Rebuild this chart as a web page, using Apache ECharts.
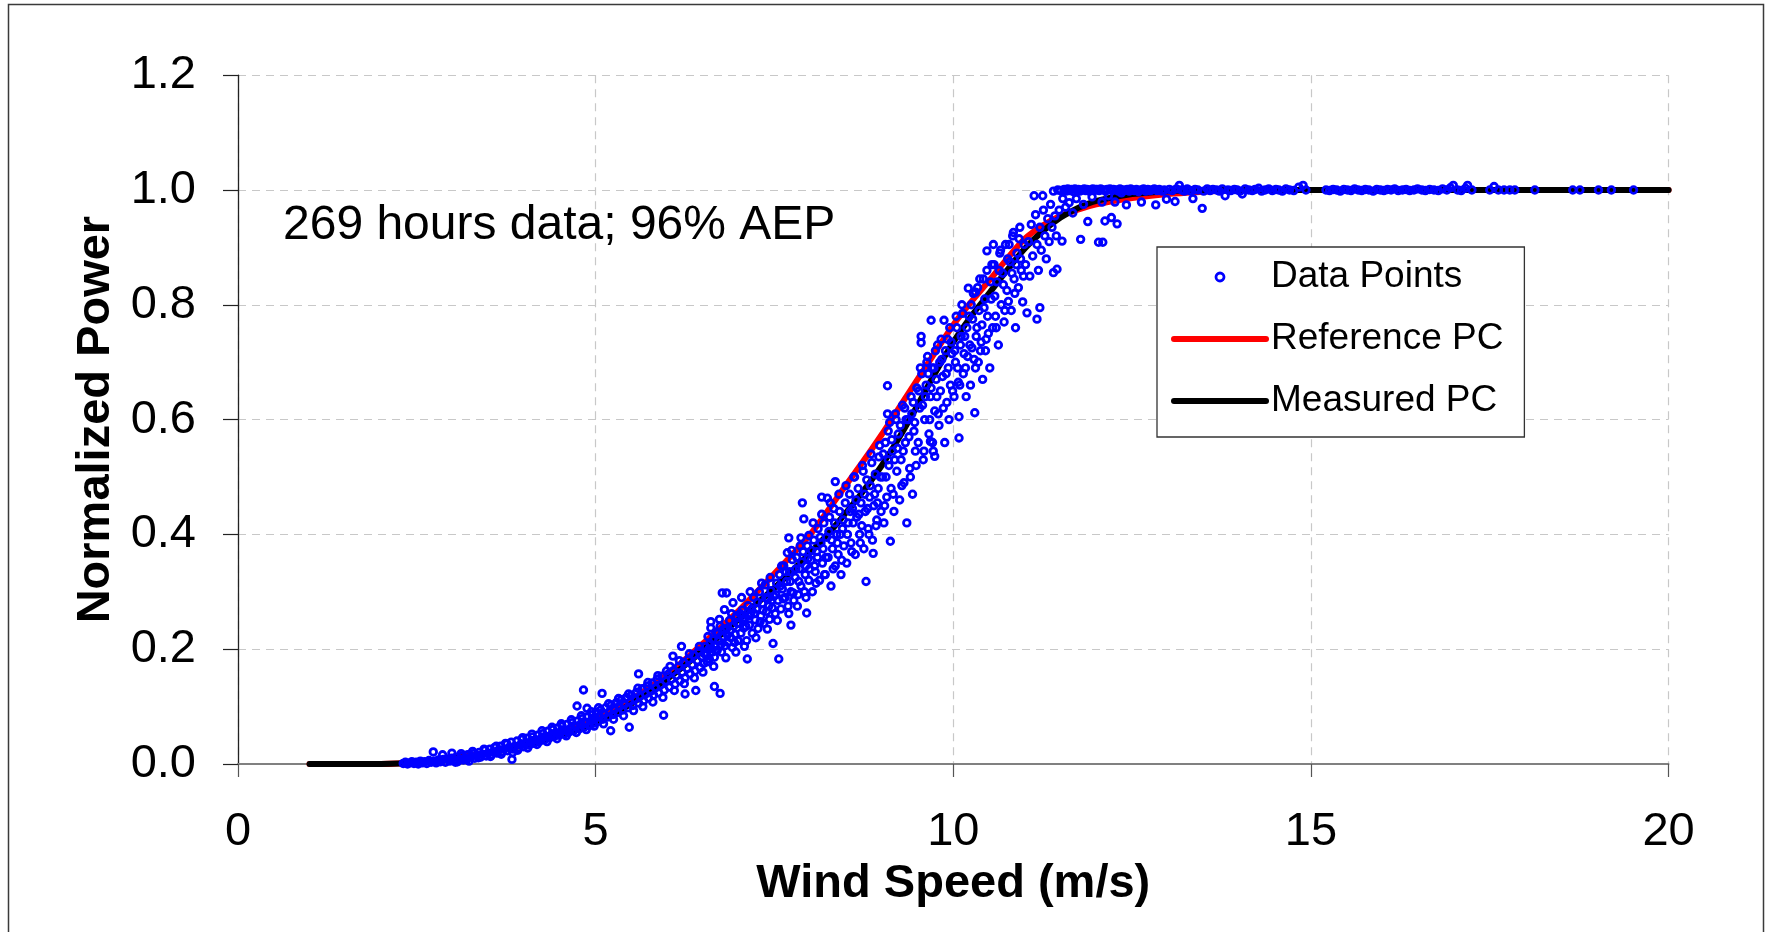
<!DOCTYPE html>
<html>
<head>
<meta charset="utf-8">
<script src="https://cdn.jsdelivr.net/npm/echarts@6/dist/echarts.min.js"></script>
<style>
html,body{margin:0;padding:0;background:#fff;}
#chart{width:1766px;height:932px;}
</style>
</head>
<body>
<div id="chart"></div>
<script>
// ---------- data ----------
const xAxisTitle = 'Wind Speed (m/s)';
const yAxisTitle = 'Normalized Power';
const annotationText = '269 hours data; 96% AEP';
const seriesNames = ['Data Points', 'Reference PC', 'Measured PC'];

const refSpeed = [1, 1.5, 2, 2.5, 3, 3.5, 4, 4.5, 5, 5.5, 6, 6.25, 6.5, 6.75, 7, 7.25, 7.5, 7.75, 8, 8.25, 8.5, 8.75, 9, 9.25, 9.5, 9.75, 10, 10.25, 10.5, 10.75, 11, 11.25, 11.5, 11.75, 12, 12.5, 13, 13.5, 14, 20];
const refPower = [0, 0, 0, 0.003, 0.010, 0.020, 0.034, 0.053, 0.077, 0.112, 0.156, 0.182, 0.210, 0.238, 0.267, 0.299, 0.332, 0.365, 0.400, 0.442, 0.486, 0.529, 0.574, 0.622, 0.670, 0.718, 0.765, 0.805, 0.842, 0.880, 0.915, 0.938, 0.955, 0.966, 0.975, 0.986, 0.993, 0.997, 1.0, 1.0];

const measSpeed = [1, 1.5, 2, 2.5, 3, 3.5, 4, 4.5, 5, 5.5, 6, 6.25, 6.5, 6.75, 7, 7.25, 7.5, 7.75, 8, 8.25, 8.5, 8.75, 9, 9.25, 9.5, 9.75, 10, 10.25, 10.5, 10.75, 11, 11.25, 11.5, 11.75, 12, 12.5, 13, 13.5, 14, 20];
const measPower = [0, 0, 0, 0.002, 0.009, 0.019, 0.033, 0.050, 0.073, 0.105, 0.148, 0.172, 0.198, 0.225, 0.252, 0.279, 0.307, 0.337, 0.368, 0.401, 0.438, 0.477, 0.520, 0.570, 0.625, 0.682, 0.735, 0.780, 0.820, 0.860, 0.898, 0.928, 0.952, 0.969, 0.981, 0.993, 0.998, 1.0, 1.0, 1.0];

const dataPoints = [
[2.31,0.001],[2.34,0.003],[2.37,0.000],[2.40,0.002],[2.43,0.004],[2.46,0.001],[2.49,0.003],[2.52,0.000],[2.55,0.005],[2.58,0.002],[2.61,0.004],[2.64,0.001],[2.67,0.006],[2.70,0.003],[2.73,0.021],[2.74,0.005],[2.77,0.002],[2.80,0.007],[2.83,0.004],[2.86,0.016],[2.87,0.008],[2.90,0.003],[2.93,0.009],[2.96,0.005],[2.99,0.019],[2.99,0.010],
[3.02,0.006],[3.05,0.012],[3.07,0.004],[3.10,0.009],[3.13,0.014],[3.15,0.007],[3.18,0.011],[3.21,0.016],[3.23,0.005],[3.26,0.013],[3.29,0.018],[3.31,0.010],[3.34,0.015],[3.37,0.020],[3.39,0.012],[3.42,0.017],[3.45,0.024],[3.47,0.014],[3.50,0.019],
[3.04,0.003],[3.12,0.018],[3.20,0.008],[3.28,0.022],[3.36,0.011],[3.44,0.026],[3.53,0.013],[3.61,0.031],[3.68,0.017],[3.76,0.035],[3.84,0.020],[3.91,0.024],[3.98,0.046],
[3.52,0.026],[3.54,0.016],[3.57,0.021],[3.59,0.029],[3.62,0.019],[3.64,0.024],[3.67,0.031],[3.69,0.021],[3.72,0.026],[3.74,0.036],[3.77,0.023],[3.79,0.029],[3.82,0.038],[3.83,0.008],[3.85,0.026],[3.87,0.031],[3.90,0.040],[3.92,0.028],[3.95,0.034],[3.97,0.043],[3.99,0.030],
[4.02,0.036],[4.04,0.045],[4.07,0.033],[4.09,0.039],[4.12,0.047],[4.14,0.036],[4.16,0.042],[4.19,0.050],[4.21,0.039],[4.24,0.045],[4.26,0.053],[4.28,0.042],[4.31,0.048],[4.33,0.057],[4.35,0.045],[4.38,0.051],[4.40,0.060],[4.42,0.048],[4.45,0.054],[4.47,0.063],[4.49,0.050],
[4.05,0.028],[4.11,0.052],[4.18,0.034],[4.25,0.058],[4.32,0.039],[4.39,0.064],[4.46,0.044],[4.52,0.070],[4.59,0.049],[4.66,0.077],[4.73,0.055],[4.80,0.084],[4.87,0.060],[4.94,0.091],[4.98,0.066],
[4.51,0.056],[4.53,0.066],[4.56,0.052],[4.58,0.059],[4.60,0.069],[4.62,0.055],[4.65,0.062],[4.67,0.072],[4.69,0.058],[4.72,0.066],[4.74,0.101],[4.75,0.075],[4.77,0.061],[4.79,0.069],[4.81,0.079],[4.83,0.129],[4.84,0.064],[4.86,0.072],[4.88,0.097],[4.89,0.082],[4.91,0.067],[4.93,0.075],[4.95,0.086],[4.97,0.071],[4.99,0.079],
[5.01,0.090],[5.03,0.074],[5.05,0.083],[5.07,0.094],[5.09,0.123],[5.10,0.078],[5.12,0.087],[5.14,0.098],[5.17,0.082],[5.19,0.091],[5.21,0.058],[5.22,0.103],[5.24,0.086],[5.26,0.095],[5.29,0.107],[5.31,0.090],[5.33,0.100],[5.36,0.112],[5.38,0.094],[5.40,0.104],[5.43,0.116],[5.45,0.098],[5.47,0.064],[5.48,0.108],
[5.04,0.098],[5.11,0.070],[5.18,0.105],[5.25,0.078],[5.32,0.114],[5.39,0.084],[5.46,0.122],[5.53,0.093],[5.59,0.132],[5.66,0.100],[5.73,0.142],[5.80,0.108],[5.87,0.154],[5.94,0.116],[5.99,0.162],
[5.50,0.120],[5.52,0.102],[5.55,0.113],[5.57,0.125],[5.60,0.157],[5.60,0.106],[5.62,0.118],[5.65,0.131],[5.67,0.110],[5.70,0.122],[5.72,0.136],[5.74,0.115],[5.77,0.127],[5.79,0.141],[5.81,0.120],[5.84,0.133],[5.86,0.148],[5.88,0.124],[5.91,0.138],[5.93,0.153],[5.95,0.085],[5.96,0.129],[5.98,0.145],
[6.01,0.156],[6.03,0.134],[6.06,0.148],[6.08,0.188],[6.08,0.162],[6.11,0.139],[6.13,0.154],[6.16,0.170],[6.18,0.145],[6.20,0.205],[6.21,0.160],[6.23,0.177],[6.25,0.150],[6.25,0.122],[6.28,0.166],[6.30,0.183],[6.32,0.157],[6.35,0.173],[6.37,0.190],[6.39,0.162],[6.40,0.128],[6.42,0.180],[6.44,0.197],[6.46,0.168],[6.48,0.187],
[6.04,0.170],[6.10,0.128],[6.17,0.180],[6.24,0.140],[6.31,0.192],[6.38,0.150],[6.45,0.205],[6.50,0.160],[6.58,0.200],[6.65,0.170],[6.73,0.252],[6.82,0.185],[6.90,0.262],[6.96,0.195],
[6.51,0.175],[6.53,0.205],[6.55,0.190],[6.57,0.222],[6.59,0.183],[6.61,0.248],[6.61,0.237],[6.62,0.201],[6.64,0.216],[6.66,0.135],[6.66,0.186],[6.68,0.230],[6.70,0.198],[6.72,0.214],[6.74,0.123],[6.74,0.240],[6.76,0.195],[6.77,0.298],[6.78,0.222],[6.80,0.269],[6.81,0.206],[6.83,0.298],[6.83,0.236],[6.85,0.212],[6.87,0.250],[6.89,0.220],[6.91,0.203],[6.92,0.281],[6.93,0.240],[6.95,0.226],[6.97,0.258],[6.99,0.215],
[6.52,0.192],[6.56,0.178],[6.60,0.210],[6.63,0.195],[6.67,0.205],[6.71,0.228],[6.75,0.208],[6.79,0.235],[6.84,0.225],[6.88,0.232],[6.94,0.212],[6.98,0.245],
[7.01,0.245],[7.03,0.228],[7.05,0.268],[7.07,0.237],[7.09,0.255],[7.11,0.215],[7.12,0.183],[7.13,0.276],[7.15,0.242],[7.17,0.262],[7.19,0.228],[7.21,0.290],[7.23,0.251],[7.25,0.270],[7.27,0.236],[7.29,0.300],[7.31,0.258],[7.33,0.280],[7.35,0.245],[7.37,0.312],[7.39,0.266],[7.41,0.288],[7.43,0.252],[7.45,0.302],[7.47,0.272],[7.48,0.210],[7.49,0.292],
[7.02,0.262],[7.06,0.250],[7.10,0.240],[7.14,0.258],[7.18,0.270],[7.22,0.262],[7.26,0.282],[7.30,0.248],[7.34,0.268],[7.38,0.290],[7.42,0.275],[7.46,0.285],
[7.04,0.290],[7.08,0.205],[7.16,0.300],[7.24,0.220],[7.32,0.315],[7.40,0.235],[7.44,0.325],[7.54,0.250],[7.60,0.345],[7.70,0.262],[7.74,0.372],[7.82,0.275],[7.86,0.380],[7.94,0.290],[7.98,0.398],
[7.51,0.262],[7.53,0.315],[7.55,0.285],[7.56,0.183],[7.57,0.330],[7.59,0.270],[7.61,0.305],[7.63,0.345],[7.65,0.290],[7.67,0.318],[7.68,0.368],[7.69,0.275],[7.70,0.394],[7.71,0.335],[7.73,0.242],[7.73,0.300],[7.75,0.356],[7.77,0.285],[7.79,0.325],[7.81,0.360],[7.83,0.295],[7.85,0.340],[7.87,0.394],[7.87,0.310],[7.89,0.455],[7.90,0.370],[7.91,0.427],[7.92,0.300],[7.94,0.345],[7.95,0.263],[7.96,0.380],[7.98,0.320],
[7.52,0.295],[7.58,0.310],[7.62,0.288],[7.66,0.335],[7.72,0.318],[7.76,0.298],[7.80,0.340],[7.84,0.318],[7.88,0.352],[7.93,0.330],[7.97,0.358],[7.99,0.340],
[8.01,0.355],[8.03,0.300],[8.05,0.390],[8.07,0.335],[8.09,0.370],[8.11,0.410],[8.13,0.320],[8.15,0.385],[8.16,0.465],[8.17,0.350],[8.19,0.420],[8.21,0.330],[8.23,0.395],[8.24,0.463],[8.25,0.360],[8.27,0.430],[8.29,0.310],[8.31,0.375],[8.33,0.445],[8.35,0.492],[8.35,0.345],[8.37,0.400],[8.39,0.365],[8.41,0.440],[8.43,0.330],[8.45,0.410],[8.47,0.380],[8.49,0.455],
[8.02,0.372],[8.06,0.345],[8.10,0.360],[8.14,0.395],[8.18,0.375],[8.22,0.360],[8.26,0.405],[8.30,0.390],[8.34,0.420],[8.38,0.385],[8.42,0.400],[8.46,0.425],
[8.04,0.420],[8.08,0.315],[8.16,0.435],[8.20,0.330],[8.28,0.455],[8.32,0.340],[8.40,0.470],[8.44,0.355],[8.50,0.485],[8.58,0.370],[8.62,0.500],[8.70,0.385],[8.74,0.510],[8.82,0.400],[8.86,0.525],[8.92,0.415],[8.96,0.535],
[8.51,0.350],[8.53,0.420],[8.55,0.470],[8.57,0.385],[8.59,0.445],[8.61,0.500],[8.63,0.365],[8.65,0.430],[8.67,0.480],[8.69,0.400],[8.71,0.455],[8.73,0.520],[8.75,0.375],[8.77,0.440],[8.78,0.318],[8.79,0.495],[8.81,0.410],[8.83,0.465],[8.85,0.540],[8.87,0.390],[8.88,0.367],[8.89,0.450],[8.91,0.505],[8.93,0.425],[8.95,0.480],[8.97,0.555],[8.99,0.440],
[8.52,0.400],[8.56,0.440],[8.60,0.420],[8.64,0.460],[8.68,0.435],[8.72,0.415],[8.76,0.470],[8.80,0.445],[8.84,0.485],[8.90,0.470],[8.94,0.455],[8.98,0.500],
[9.01,0.500],[9.03,0.420],[9.05,0.560],[9.07,0.465],[9.08,0.659],[9.08,0.610],[9.09,0.530],[9.11,0.595],[9.12,0.388],[9.13,0.480],[9.15,0.545],[9.17,0.440],[9.19,0.610],[9.21,0.510],[9.23,0.575],[9.25,0.460],[9.27,0.530],[9.29,0.625],[9.31,0.490],[9.33,0.560],[9.35,0.420],[9.37,0.600],[9.39,0.515],[9.41,0.640],[9.43,0.470],[9.45,0.580],[9.47,0.545],[9.49,0.655],
[9.02,0.540],[9.06,0.500],[9.10,0.520],[9.14,0.565],[9.18,0.530],[9.22,0.550],[9.26,0.590],[9.30,0.545],[9.34,0.600],[9.38,0.570],[9.42,0.610],[9.46,0.595],
[9.04,0.450],[9.09,0.580],[9.16,0.470],[9.20,0.600],[9.28,0.485],[9.32,0.620],[9.40,0.500],[9.44,0.630],[9.48,0.520],[9.54,0.690],[9.59,0.545],[9.63,0.700],[9.67,0.600],[9.75,0.720],[9.79,0.610],[9.83,0.740],[9.91,0.630],[9.95,0.760],[9.99,0.650],
[9.51,0.560],[9.53,0.620],[9.55,0.745],[9.55,0.734],[9.56,0.680],[9.58,0.530],[9.60,0.600],[9.62,0.660],[9.64,0.710],[9.66,0.575],[9.68,0.640],[9.68,0.562],[9.69,0.773],[9.70,0.690],[9.71,0.560],[9.72,0.545],[9.74,0.536],[9.74,0.615],[9.76,0.670],[9.78,0.730],[9.80,0.590],[9.82,0.650],[9.84,0.705],[9.86,0.620],[9.87,0.773],[9.88,0.560],[9.90,0.680],[9.92,0.740],[9.94,0.600],[9.96,0.660],[9.98,0.715],
[9.52,0.650],[9.57,0.625],[9.61,0.640],[9.65,0.680],[9.69,0.655],[9.73,0.690],[9.77,0.640],[9.81,0.700],[9.85,0.675],[9.89,0.720],[9.93,0.690],[9.97,0.735],
[10.01,0.640],[10.03,0.700],[10.05,0.760],[10.07,0.665],[10.08,0.605],[10.08,0.568],[10.10,0.730],[10.12,0.800],[10.14,0.680],[10.16,0.745],[10.18,0.640],[10.20,0.710],[10.21,0.829],[10.22,0.780],[10.24,0.660],[10.26,0.725],[10.28,0.820],[10.30,0.612],[10.31,0.690],[10.31,0.822],[10.33,0.760],[10.35,0.700],[10.37,0.845],[10.39,0.735],[10.41,0.670],[10.43,0.795],[10.45,0.720],[10.47,0.860],[10.47,0.894],[10.49,0.750],
[10.02,0.720],[10.06,0.690],[10.11,0.745],[10.15,0.715],[10.19,0.760],[10.23,0.730],[10.27,0.775],[10.32,0.745],[10.36,0.790],[10.40,0.765],[10.44,0.810],[10.48,0.780],
[10.04,0.780],[10.09,0.660],[10.13,0.785],[10.17,0.690],[10.25,0.800],[10.29,0.705],[10.34,0.830],[10.38,0.720],[10.42,0.845],[10.46,0.740],[10.54,0.870],[10.60,0.760],[10.66,0.895],[10.72,0.790],[10.78,0.905],[10.86,0.820],[10.92,0.915],[10.98,0.850],
[10.51,0.690],[10.53,0.810],[10.55,0.760],[10.56,0.905],[10.57,0.870],[10.59,0.780],[10.61,0.840],[10.63,0.730],[10.65,0.890],[10.67,0.800],[10.69,0.855],[10.71,0.770],[10.73,0.905],[10.75,0.825],[10.77,0.806],[10.79,0.875],[10.81,0.790],[10.83,0.920],[10.84,0.926],[10.85,0.845],[10.87,0.760],[10.89,0.890],[10.91,0.830],[10.93,0.935],[10.95,0.860],[10.97,0.805],[10.99,0.905],
[10.52,0.840],[10.58,0.815],[10.64,0.860],[10.70,0.835],[10.76,0.880],[10.82,0.855],[10.88,0.870],[10.94,0.880],
[11.01,0.870],[11.03,0.786],[11.05,0.910],[11.07,0.850],[11.09,0.940],[11.11,0.885],[11.13,0.990],[11.15,0.957],[11.17,0.775],[11.17,0.905],[11.19,0.860],[11.21,0.795],[11.21,0.935],[11.23,0.895],[11.25,0.990],[11.26,0.965],[11.28,0.920],[11.30,0.880],[11.32,0.950],[11.34,0.910],[11.36,0.975],[11.38,0.935],[11.40,0.998],[11.40,0.856],[11.42,0.955],[11.44,0.920],[11.45,0.862],[11.46,1.000],[11.48,0.965],
[11.50,0.999],[11.52,0.911],[11.53,0.985],[11.55,1.001],[11.57,0.970],[11.58,0.998],[11.60,1.002],[11.62,0.978],[11.63,0.999],[11.65,1.001],[11.67,0.960],[11.68,0.997],[11.70,1.002],[11.72,0.985],[11.73,0.999],[11.75,1.001],[11.77,0.998],[11.78,0.914],[11.80,1.000],[11.82,0.975],[11.83,1.002],[11.85,0.999],[11.87,1.001],[11.88,0.945],[11.90,0.998],[11.92,1.000],[11.94,0.988],[11.95,1.002],[11.97,0.999],[11.99,1.001],
[12.01,1.001],[12.03,0.909],[12.04,0.999],[12.06,1.002],[12.08,0.979],[12.09,0.909],[12.10,1.000],[12.12,0.946],[12.13,0.998],[12.15,1.001],[12.17,0.990],[12.19,1.002],[12.21,0.952],[12.22,0.999],[12.24,1.001],[12.26,0.979],[12.28,1.000],[12.29,0.941],[12.31,0.998],[12.33,1.002],[12.35,0.995],[12.37,1.000],[12.39,0.999],[12.42,0.974],[12.43,1.001],[12.46,0.998],[12.48,1.002],[12.50,1.000],[12.53,0.999],[12.56,1.001],[12.59,0.997],[12.62,1.000],[12.63,0.979],[12.66,1.002],[12.69,0.998],[12.72,1.001],[12.75,0.999],[12.78,1.000],[12.81,1.002],[12.83,0.974],[12.85,0.999],[12.88,1.001],[12.92,0.998],[12.95,1.000],[12.98,0.984],
[13.02,1.001],[13.06,0.999],[13.10,0.980],[13.12,1.002],[13.16,1.008],[13.19,1.000],[13.23,0.998],[13.27,1.002],[13.31,0.999],[13.35,0.985],[13.38,1.001],[13.42,1.000],[13.48,0.968],[13.50,0.998],[13.55,1.002],[13.59,0.999],[13.63,1.001],[13.68,1.000],[13.72,0.998],[13.76,1.002],[13.80,0.990],[13.84,1.000],[13.88,0.999],[13.93,1.001],[13.97,1.000],[14.01,0.998],[14.04,0.993],[14.08,1.002],[14.13,1.000],[14.18,0.999],[14.22,1.001],[14.27,1.003],[14.31,0.998],[14.36,1.000],[14.41,1.002],[14.46,0.999],[14.51,1.001],[14.55,1.000],[14.60,0.998],[14.65,1.002],[14.70,1.000],[14.76,0.999],[14.83,1.005],[14.89,1.008],[14.93,1.000],
[15.21,1.000],[15.26,0.999],[15.31,1.001],[15.36,1.000],[15.41,0.998],[15.46,1.001],[15.51,1.000],[15.56,0.999],[15.61,1.002],[15.66,1.000],[15.71,0.999],[15.76,1.001],[15.81,1.000],[15.87,0.998],[15.92,1.001],[15.97,1.000],[16.02,0.999],[16.07,1.001],[16.12,1.000],[16.17,1.002],[16.22,0.999],[16.28,1.000],[16.33,1.001],[16.38,0.999],[16.44,1.000],[16.49,1.002],[16.55,1.000],[16.60,0.999],[16.66,1.001],[16.72,1.000],[16.78,0.999],[16.84,1.002],[16.90,1.000],[16.95,1.004],[16.99,1.008],[17.05,1.000],[17.10,0.999],[17.16,1.003],[17.19,1.008],[17.25,1.000],
[17.50,1.000],[17.56,1.006],[17.62,1.000],[17.70,1.000],[17.78,1.000],[17.85,1.000],[18.13,1.000],[18.66,1.000],[18.76,1.000],[19.02,1.000],[19.20,1.000],[19.51,1.000]
];

// ---------- chart ----------
const FONT = '"Liberation Sans", Arial, Helvetica, sans-serif';
const chart = echarts.init(document.getElementById('chart'), null, {renderer: 'canvas'});

function pairs(xs, ys) { return xs.map((x, i) => [x, ys[i]]); }

const option = {
  animation: false,
  backgroundColor: '#ffffff',
  graphic: [{
    type: 'rect', silent: true, z: 100,
    shape: {x: 8.5, y: 4.5, width: 1755, height: 960},
    style: {fill: 'rgba(0,0,0,0)', stroke: '#3a3a3a', lineWidth: 1.5}
  }],
  title: {
    text: annotationText, left: 283, top: 202, padding: 0,
    textStyle: {fontFamily: FONT, fontSize: 48, fontWeight: 'normal', color: '#000', lineHeight: 48}
  },
  legend: {
    orient: 'vertical', left: 1157, top: 247,
    padding: [10, 21, 16, 14], itemGap: 22, itemWidth: 92, itemHeight: 8,
    backgroundColor: '#fff', borderColor: '#333', borderWidth: 1.3,
    textStyle: {fontFamily: FONT, fontSize: 37, color: '#000', lineHeight: 40},
    data: [
      {name: seriesNames[0], itemStyle: {color: 'rgba(0,0,0,0)', borderColor: '#0000ff', borderWidth: 2.8}},
      {name: seriesNames[1], lineStyle: {width: 6, cap: 'round'}, itemStyle: {opacity: 0}},
      {name: seriesNames[2], lineStyle: {width: 6, cap: 'round'}, itemStyle: {opacity: 0}}
    ]
  },
  grid: {left: 238, right: 97.4, top: 75.2, bottom: 168},
  xAxis: {
    type: 'value', min: 0, max: 20, interval: 5,
    name: xAxisTitle, nameLocation: 'middle', nameGap: 97,
    nameTextStyle: {fontFamily: FONT, fontSize: 47, fontWeight: 'bold', color: '#000', lineHeight: 47},
    axisLine: {show: true, onZero: false, lineStyle: {color: '#808080', width: 1.8}},
    axisTick: {show: true, length: 13, lineStyle: {color: '#555', width: 1.2}},
    axisLabel: {margin: 45, fontFamily: FONT, fontSize: 47, color: '#000', lineHeight: 47},
    splitLine: {show: true, lineStyle: {color: '#c8c8c8', width: 1.2, type: [8, 6]}}
  },
  yAxis: {
    type: 'value', min: 0, max: 1.2, interval: 0.2,
    name: yAxisTitle, nameLocation: 'middle', nameGap: 115, nameRotate: 90,
    nameTextStyle: {fontFamily: FONT, fontSize: 47, fontWeight: 'bold', color: '#000', lineHeight: 47},
    axisLine: {show: true, onZero: false, lineStyle: {color: '#222', width: 1.3}},
    axisTick: {show: true, length: 15, lineStyle: {color: '#222', width: 1.2}},
    axisLabel: {margin: 42, fontFamily: FONT, fontSize: 47, color: '#000', lineHeight: 47,
      formatter: v => v.toFixed(1)},
    splitLine: {show: true, lineStyle: {color: '#c8c8c8', width: 1.2, type: [8, 6]}}
  },
  series: [
    {
      name: seriesNames[1], type: 'line', data: pairs(refSpeed, refPower),
      symbol: 'none', smooth: 0.3, z: 2, silent: true,
      lineStyle: {color: '#ff0000', width: 6, cap: 'round', join: 'round'},
      itemStyle: {color: '#ff0000'}
    },
    {
      name: seriesNames[2], type: 'line', data: pairs(measSpeed, measPower),
      symbol: 'none', smooth: 0.3, z: 2, silent: true,
      lineStyle: {color: '#000000', width: 6, cap: 'round', join: 'round'},
      itemStyle: {color: '#000000'}
    },
    {
      name: seriesNames[0], type: 'scatter', data: dataPoints, z: 3, silent: true,
      symbol: 'circle', symbolSize: 6.6,
      itemStyle: {color: 'rgba(0,0,0,0)', borderColor: '#0000ff', borderWidth: 2.8, opacity: 1},
      emphasis: {disabled: true}
    }
  ]
};
chart.setOption(option);
</script>
</body>
</html>
